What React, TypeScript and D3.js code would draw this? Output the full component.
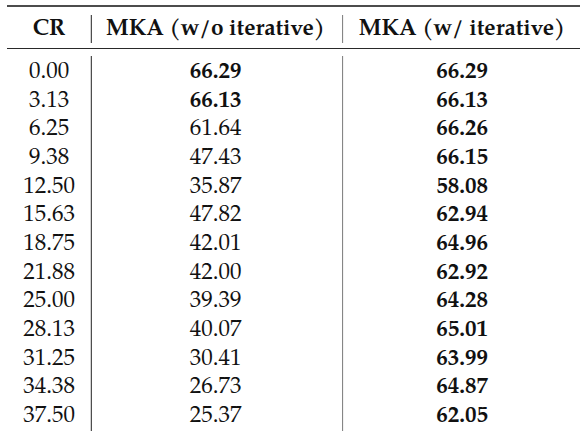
import * as d3 from 'd3';

const headers = ['CR', 'MKA (w/o iterative)', 'MKA (w/ iterative)'];
const crValues = ['0.00', '3.13', '6.25', '9.38', '12.50', '15.63', '18.75', '21.88', '25.00', '28.13', '31.25', '34.38', '37.50'];
const withoutIterative = [66.29, 66.13, 61.64, 47.43, 35.87, 47.82, 42.01, 42.0, 39.39, 40.07, 30.41, 26.73, 25.37];
const withIterative = [66.29, 66.13, 66.26, 66.15, 58.08, 62.94, 64.96, 62.92, 64.28, 65.01, 63.99, 64.87, 62.05];

const width = 583;
const height = 436;
const font = 'TeX Gyre Pagella, Liberation Serif, serif';
const ink = '#111';

export default function App() {
  // column centres and separators
  const colX = d3.scaleOrdinal<number, number>().domain([0, 1, 2]).range([49, 215.5, 462]);
  const separators = [91.3, 342.6];
  const sepColors = ['#222', '#7a7a7a'];

  // row baselines
  const rowY = d3
    .scalePoint<number>()
    .domain(d3.range(crValues.length))
    .range([78, 422]);

  const fmt = d3.format('.2f');
  const rows = crValues.map((cr, i) => {
    const best = Math.max(withoutIterative[i], withIterative[i]);
    return [
      { text: cr, bold: false },
      { text: fmt(withoutIterative[i]), bold: withoutIterative[i] >= best },
      { text: fmt(withIterative[i]), bold: withIterative[i] >= best },
    ];
  });

  return (
    <svg
      width={width}
      height={height}
      style={{ position: 'absolute', left: 0, top: 0, background: '#fff' }}
    >
      {/* rules */}
      <line x1={7} x2={580} y1={6} y2={6} stroke={ink} strokeWidth={1.4} />
      <line x1={7} x2={580} y1={48.5} y2={48.5} stroke={ink} strokeWidth={0.9} />

      {separators.map((x, i) => (
        <g key={i} stroke={sepColors[i]} strokeWidth={1}>
          <line x1={x} x2={x} y1={15} y2={43} />
          <line x1={x} x2={x} y1={56} y2={431} />
        </g>
      ))}

      {headers.map((h, i) => (
        <text
          key={h}
          x={colX(i)}
          y={35}
          textAnchor="middle"
          fontFamily={font}
          fontWeight="bold"
          fontSize={22.6}
          fill={ink}
        >
          {h}
        </text>
      ))}

      {rows.map((cells, r) =>
        cells.map((c, ci) => (
          <text
            key={`${r}-${ci}`}
            x={colX(ci)}
            y={rowY(r)}
            textAnchor="middle"
            fontFamily={font}
            fontWeight={c.bold ? 'bold' : 'normal'}
            fontSize={23}
            fill={ink}
          >
            {c.text}
          </text>
        ))
      )}
    </svg>
  );
}
